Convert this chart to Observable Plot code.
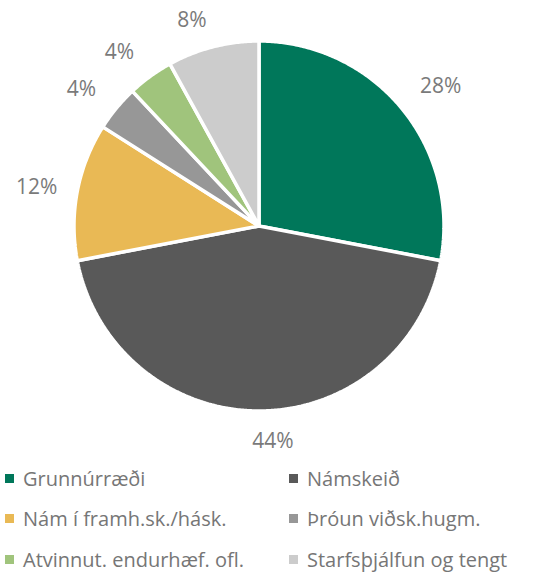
<!DOCTYPE html>
<html>
<head>
<meta charset="utf-8">
<script src="https://cdn.jsdelivr.net/npm/d3@7"></script>
<script src="https://cdn.jsdelivr.net/npm/@observablehq/plot@0.6"></script>
<style>
  html, body { margin: 0; padding: 0; background: #fff; }
  body { width: 539px; height: 573px; overflow: hidden; font-family: "Open Sans", sans-serif; }
  #legend { display: grid; grid-template-columns: 284px 255px; }
  .item { height: 40.5px; display: flex; align-items: center; font-size: 20px; color: #767676; white-space: nowrap; }
  .sw { width: 9px; height: 9px; margin-left: 5px; margin-right: 9px; flex: none; }
</style>
</head>
<body>
<div id="chart"></div>
<div id="legend"></div>
<script>
const categories = ["Grunnúrræði", "Námskeið", "Nám í framh.sk./hásk.", "Þróun viðsk.hugm.", "Atvinnut. endurhæf. ofl.", "Starfsþjálfun og tengt"];
const shares = [28, 44, 12, 4, 4, 8];
const labels = ["28%", "44%", "12%", "4%", "4%", "8%"];
const colors = ["#00775a", "#595959", "#e9b955", "#979797", "#a0c47c", "#cccccc"];

// layout (pixels)
const W = 539, H = 458, cx = 258.5, cy = 225.5, R = 185;

const total = d3.sum(shares);
let cum = 0;
const slicePts = [];
const labelPts = [];
categories.forEach((c, i) => {
  const a0 = cum / total * 2 * Math.PI;
  cum += shares[i];
  const a1 = cum / total * 2 * Math.PI;
  slicePts.push({cat: c, x: 0, y: 0});
  const n = Math.max(2, Math.ceil((a1 - a0) / (Math.PI / 360)));
  for (let k = 0; k <= n; k++) {
    const a = a0 + (a1 - a0) * k / n;
    slicePts.push({cat: c, x: Math.sin(a), y: Math.cos(a)});
  }
  const m = (a0 + a1) / 2;
  const s = Math.sin(m), co = Math.cos(m);
  const w = labels[i].length * 14;
  const rr = R + 16 + (w / 2) * Math.abs(s) + 11 * Math.abs(co);
  const px = rr * s + Math.sign(s) * 14 * Math.abs(co);
  const py = rr * co;
  labelPts.push({text: labels[i], x: px / R, y: py / R});
});

const chart = Plot.plot({
  width: W,
  height: H,
  margin: 0,
  x: {domain: [-cx / R, (W - cx) / R], axis: null},
  y: {domain: [-(H - cy) / R, cy / R], axis: null},
  color: {domain: categories, range: colors},
  style: {fontFamily: "Open Sans, sans-serif", background: "white"},
  marks: [
    Plot.line(slicePts, {x: "x", y: "y", z: "cat", fill: "cat", stroke: "white", strokeWidth: 3.5, strokeLinejoin: "miter", curve: "linear-closed"}),
    Plot.text(labelPts, {x: "x", y: "y", text: "text", fill: "#7a7a7a", fontSize: 21, textAnchor: "middle", lineAnchor: "middle", dy: 3})
  ]
});
document.getElementById("chart").appendChild(chart);

const legend = document.getElementById("legend");
categories.forEach((c, i) => {
  const it = document.createElement("div");
  it.className = "item";
  const sw = document.createElement("span");
  sw.className = "sw";
  sw.style.background = colors[i];
  const t = document.createElement("span");
  t.textContent = c;
  it.appendChild(sw);
  it.appendChild(t);
  legend.appendChild(it);
});
</script>
</body>
</html>
